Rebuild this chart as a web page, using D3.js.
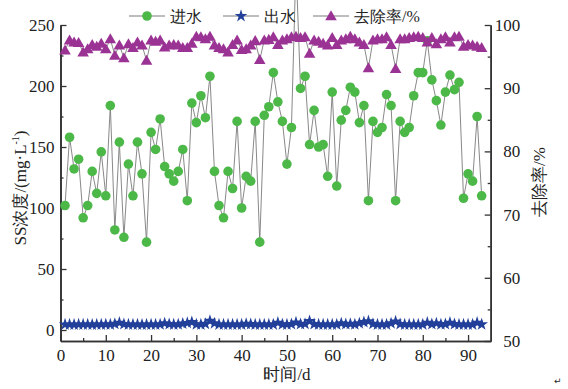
<!DOCTYPE html>
<html>
<head>
<meta charset="utf-8">
<script src="https://cdn.jsdelivr.net/npm/d3@7"></script>
<style>
    body { margin: 0; background: #fff; }
    svg text { fill: #222; }
</style>
</head>
<body>
<script>
// chart data, day 1 .. 93
var days = d3.range(1, 94);

// inflow SS (mg/L)
var inflow = [102, 158, 132, 140, 92, 102, 130, 112, 146, 110,
    184, 82, 154, 76, 136, 110, 154, 128, 72, 162,
    148, 173, 134, 128, 122, 130, 148, 106, 186, 170,
    192, 174, 208, 130, 102, 92, 130, 116, 171, 100,
    126, 122, 171, 72, 176, 183, 211, 187, 171, 136,
    166, 300, 198, 208, 152, 180, 150, 152, 126, 195,
    118, 172, 180, 199, 195, 170, 184, 106, 171, 162,
    166, 193, 184, 106, 171, 162, 166, 192, 211, 211,
    237, 205, 188, 168, 195, 209, 197, 203, 108, 128,
    122, 175, 110];

// outflow SS (mg/L)
var outflow = [4.5, 4.5, 4.4, 4.5, 4.5, 4.5, 4.4, 4.5, 4.5, 4.6,
    4.5, 5.0, 6.0, 4.8, 4.5, 4.5, 4.5, 4.4, 4.5, 4.5,
    4.5, 4.6, 5.5, 4.8, 4.5, 4.6, 5.2, 5.8, 6.5, 4.6,
    4.5, 5.0, 7.5, 5.5, 4.5, 4.5, 4.5, 4.5, 4.5, 4.5,
    5.0, 4.8, 4.5, 4.5, 4.5, 4.5, 4.5, 6.0, 4.6, 4.5,
    4.8, 6.2, 4.8, 5.0, 7.3, 4.8, 4.5, 4.5, 4.5, 4.5,
    4.5, 5.5, 4.8, 5.0, 4.6, 5.5, 6.5, 7.2, 5.0, 4.5,
    4.5, 4.5, 5.5, 7.0, 4.8, 4.5, 4.5, 4.5, 4.5, 4.5,
    6.0, 4.8, 5.5, 4.6, 4.8, 6.0, 4.8, 4.5, 4.5, 4.5,
    4.5, 6.0, 4.6];

// removal rate (%)
var removal = [96.0, 97.6, 97.3, 97.2, 95.7, 96.2, 96.9, 96.6, 97.1, 96.2,
    97.8, 95.2, 96.8, 94.8, 97.0, 96.4, 97.3, 96.8, 94.4, 97.6,
    97.4, 97.6, 96.5, 96.8, 96.9, 96.8, 96.4, 96.4, 97.1, 98.2,
    98.1, 97.8, 98.2, 96.8, 96.4, 96.2, 95.7, 96.9, 97.6, 96.1,
    96.2, 96.8, 97.5, 94.5, 97.6, 97.7, 98.1, 96.9, 97.6, 97.8,
    98.1, 98.2, 98.0, 98.1, 95.5, 97.6, 97.4, 97.1, 96.8, 98.0,
    96.9, 97.6, 97.8, 98.2, 97.8, 97.3, 96.9, 93.2, 97.6, 97.8,
    97.8, 98.1, 96.9, 93.1, 97.8, 97.8, 98.0, 98.1, 98.2, 98.0,
    97.3, 98.0, 97.0, 97.8, 98.1, 97.3, 98.1, 98.2, 96.6, 96.9,
    96.8, 96.6, 96.4];

// tick values
var xTicks = [0, 10, 20, 30, 40, 50, 60, 70, 80, 90];
var xMinor = [5, 15, 25, 35, 45, 55, 65, 75, 85];
var leftTicks = [0, 50, 100, 150, 200, 250];
var leftMinor = [25, 75, 125, 175, 225];
var rightTicks = [50, 60, 70, 80, 90, 100];
var rightMinor = [55, 65, 75, 85, 95];

var seriesNames = ["进水", "出水", "去除率/%"];

// fonts: times-like digits (cjk glyphs fall back on their own)
var serifFont = "Liberation Serif, Tinos, Times New Roman, DejaVu Serif, serif";

// svg frame
var width = 568,
    height = 389;

var svg = d3.select("body")
    .append("svg")
    .attr("width", width)
    .attr("height", height)
    .attr("font-family", serifFont);

// scales
var x = d3.scaleLinear().domain([0, 95]).range([60.5, 490.7]);
var yL = d3.scaleLinear().domain([-9, 250]).range([341, 25]);
var yR = d3.scaleLinear().domain([50, 100]).range([341, 25]);

var green = "#4cb848",
    blue = "#22409a",
    purple = "#9a3394",
    lineGrey = "#7a7a7a";

// axes helper: ticks point inward, dark grey lines
function styleAxis(g) {
    g.attr("font-family", serifFont);
    g.select(".domain").attr("stroke", "#333").attr("stroke-width", 1.6);
    g.selectAll(".tick line").attr("stroke", "#333").attr("stroke-width", 1.3);
    g.selectAll("text")
        .attr("font-size", 17)
        .attr("fill", "#222");
}

// bottom axis
svg.append("g")
    .attr("transform", "translate(0,341)")
    .call(d3.axisBottom(x).tickValues(xTicks).tickSizeInner(-6).tickSizeOuter(0).tickPadding(8))
    .call(styleAxis);
svg.append("g")
    .attr("transform", "translate(0,341)")
    .call(d3.axisBottom(x).tickValues(xMinor).tickSizeInner(-3).tickSizeOuter(0).tickFormat(""))
    .call(styleAxis);

// left axis
svg.append("g")
    .attr("transform", "translate(60.5,0)")
    .call(d3.axisLeft(yL).tickValues(leftTicks).tickSizeInner(-6).tickSizeOuter(0).tickPadding(6))
    .call(styleAxis);
svg.append("g")
    .attr("transform", "translate(60.5,0)")
    .call(d3.axisLeft(yL).tickValues(leftMinor).tickSizeInner(-3).tickSizeOuter(0).tickFormat(""))
    .call(styleAxis);

// right axis, labels right-aligned like the original
var rAxis = svg.append("g")
    .attr("transform", "translate(490.7,0)")
    .call(d3.axisRight(yR).tickValues(rightTicks).tickSizeInner(-6).tickSizeOuter(0).tickPadding(6))
    .call(styleAxis);
rAxis.selectAll("text").attr("text-anchor", "end").attr("x", 29.5);
svg.append("g")
    .attr("transform", "translate(490.7,0)")
    .call(d3.axisRight(yR).tickValues(rightMinor).tickSizeInner(-3).tickSizeOuter(0).tickFormat(""))
    .call(styleAxis);

// axis titles
svg.append("text")
    .attr("x", 287)
    .attr("y", 380)
    .attr("text-anchor", "middle")
    .attr("font-size", 17)
    .text("时间/d");

var leftTitle = svg.append("text")
    .attr("transform", "translate(26,188) rotate(-90)")
    .attr("text-anchor", "middle")
    .attr("font-size", 17);
leftTitle.append("tspan").text("SS浓度/(mg·L");
leftTitle.append("tspan").attr("font-size", 10).attr("dy", -7).text("-1");
leftTitle.append("tspan").attr("dy", 7).text(")");

svg.append("text")
    .attr("transform", "translate(545,182) rotate(-90)")
    .attr("text-anchor", "middle")
    .attr("font-size", 17)
    .text("去除率/%");

// series data rows
var rows = days.map(function (d, i) {
    return { day: d, inflow: inflow[i], outflow: outflow[i], removal: removal[i] };
});

var lineIn = d3.line().x(function (d) { return x(d.day); }).y(function (d) { return yL(d.inflow); });
var lineOut = d3.line().x(function (d) { return x(d.day); }).y(function (d) { return yL(d.outflow); });
var lineRem = d3.line().x(function (d) { return x(d.day); }).y(function (d) { return yR(d.removal); });

var starSym = d3.symbol().type(d3.symbolStar).size(50);
var triSym = d3.symbol().type(d3.symbolTriangle).size(58);

// inflow: grey line + green dots
svg.append("path")
    .datum(rows)
    .attr("d", lineIn)
    .attr("fill", "none")
    .attr("stroke", lineGrey)
    .attr("stroke-width", 0.9);
svg.selectAll(".inDot")
    .data(rows)
    .enter()
    .append("circle")
    .attr("class", "inDot")
    .attr("cx", function (d) { return x(d.day); })
    .attr("cy", function (d) { return yL(d.inflow); })
    .attr("r", 4.8)
    .attr("fill", green);

// outflow: blue line + stars
svg.append("path")
    .datum(rows)
    .attr("d", lineOut)
    .attr("fill", "none")
    .attr("stroke", blue)
    .attr("stroke-width", 1.2);
svg.selectAll(".outStar")
    .data(rows)
    .enter()
    .append("path")
    .attr("class", "outStar")
    .attr("d", starSym)
    .attr("transform", function (d) { return "translate(" + x(d.day) + "," + yL(d.outflow) + ")"; })
    .attr("fill", blue);

// removal: grey line + purple triangles
svg.append("path")
    .datum(rows)
    .attr("d", lineRem)
    .attr("fill", "none")
    .attr("stroke", lineGrey)
    .attr("stroke-width", 0.9);
svg.selectAll(".remTri")
    .data(rows)
    .enter()
    .append("path")
    .attr("class", "remTri")
    .attr("d", triSym)
    .attr("transform", function (d) { return "translate(" + x(d.day) + "," + (yR(d.removal) + 1) + ")"; })
    .attr("fill", purple);

// legend across the top
var legendX = [129, 223, 313];
var legendY = 16;
var legendSyms = [null, starSym, triSym];
var legendCols = [green, blue, purple];

seriesNames.forEach(function (name, i) {
    var g = svg.append("g").attr("transform", "translate(" + legendX[i] + "," + legendY + ")");
    g.append("line")
        .attr("x1", 0).attr("x2", 36)
        .attr("stroke", lineGrey)
        .attr("stroke-width", 1);
    if (i == 0) {
        g.append("circle").attr("cx", 18).attr("r", 4.8).attr("fill", green);
    } else {
        g.append("path")
            .attr("d", legendSyms[i])
            .attr("transform", "translate(18," + (i == 2 ? 1 : 0) + ")")
            .attr("fill", legendCols[i]);
    }
    g.append("text")
        .attr("x", 41)
        .attr("dy", "0.36em")
        .attr("font-size", 16)
        .text(name);
});

// stray paragraph mark in the corner of the original scan
svg.append("text")
    .attr("x", 554)
    .attr("y", 384)
    .attr("font-size", 9)
    .attr("fill", "#999")
    .attr("font-family", "DejaVu Sans")
    .text("↵");
</script>
</body>
</html>
